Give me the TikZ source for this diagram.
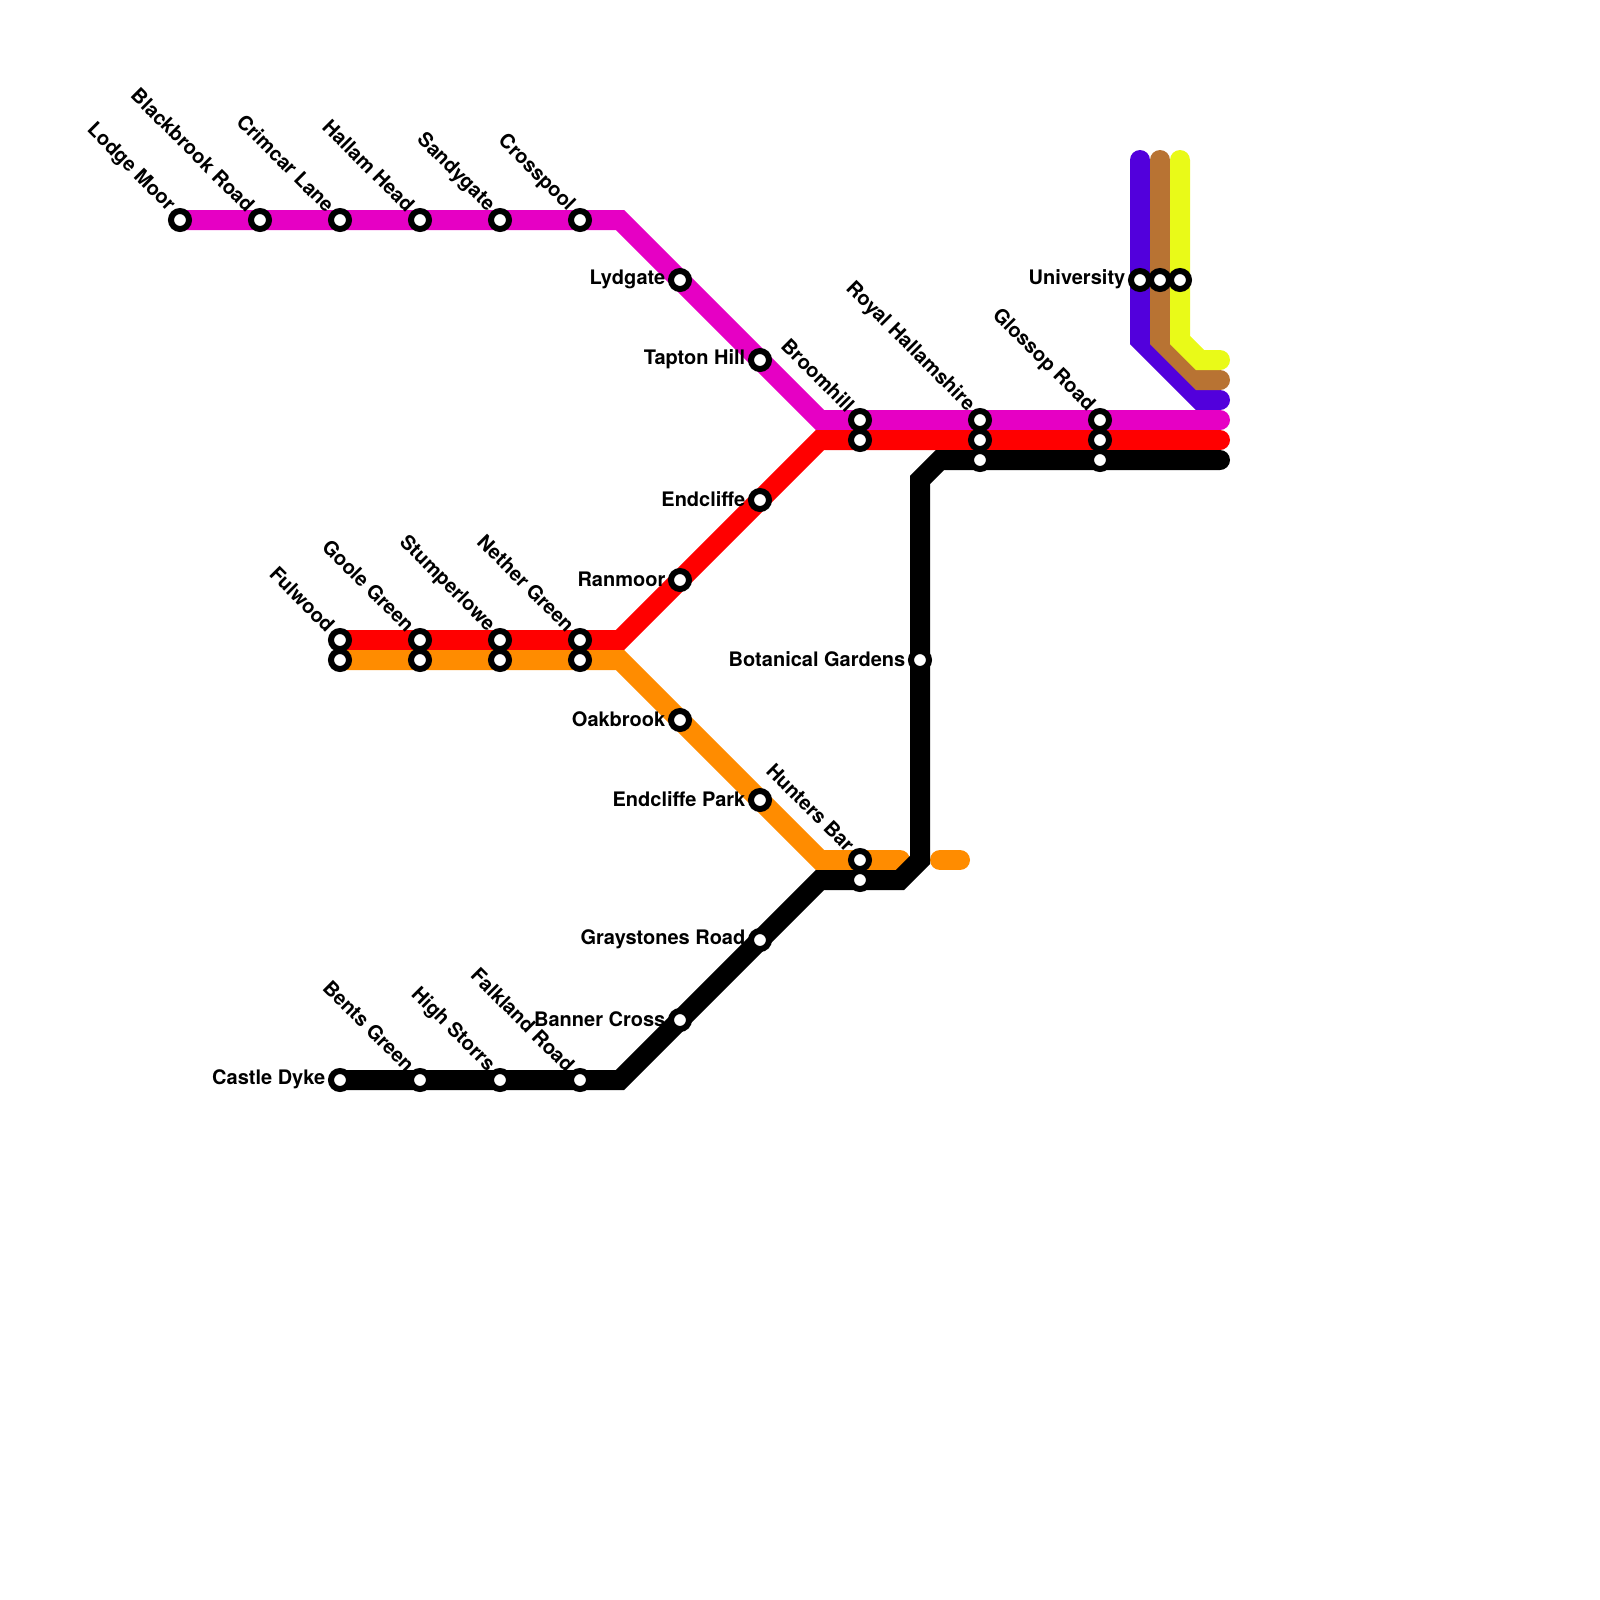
\documentclass[tikz,border=0pt]{standalone}
\usepackage{fontspec}
\setmainfont{TeX Gyre Heros}
\usetikzlibrary{backgrounds}
\definecolor{pinkline}{HTML}{E600C4}
\definecolor{orangeline}{HTML}{FF8C00}
\definecolor{violetline}{HTML}{5200DC}
\definecolor{brownline}{HTML}{B87333}
\definecolor{yellowline}{HTML}{E9FA18}
\tikzset{
  route/.style={line width=0.2cm,line cap=round,line join=miter},
  stop/.style={circle,draw=black,fill=white,line width=0.06cm,minimum size=0.18cm,inner sep=0pt},
  leftname/.style={anchor=east,xshift=-0.14cm,yshift=0.006cm,inner sep=0pt,font=\fontsize{5.69pt}{6.8pt}\selectfont\bfseries},
  tiltname/.style={rotate=-45,anchor=east,xshift=-0.14cm,yshift=0.02cm,inner sep=0pt,font=\fontsize{5.69pt}{6.8pt}\selectfont\bfseries}
}
\begin{document}
\begin{tikzpicture}[x=0.2cm,y=-0.2cm]
\useasboundingbox (0,0) rectangle (80,80);
% pink stops
\node[stop] (lodge) at (9,11) {};
\node[stop] (blackbrook) at (13,11) {};
\node[stop] (crimcar) at (17,11) {};
\node[stop] (hallam) at (21,11) {};
\node[stop] (sandygate) at (25,11) {};
\node[stop] (crosspool) at (29,11) {};
\node[stop] (lydgate) at (34,14) {};
\node[stop] (tapton) at (38,18) {};
\node[stop] (broomhillA) at (43,21) {};
\node[stop] (royalA) at (49,21) {};
\node[stop] (glossopA) at (55,21) {};
% red stops
\node[stop] (fulwoodA) at (17,32) {};
\node[stop] (gooleA) at (21,32) {};
\node[stop] (stumperloweA) at (25,32) {};
\node[stop] (netherA) at (29,32) {};
\node[stop] (ranmoor) at (34,29) {};
\node[stop] (endcliffe) at (38,25) {};
\node[stop] (broomhillB) at (43,22) {};
\node[stop] (royalB) at (49,22) {};
\node[stop] (glossopB) at (55,22) {};
% orange stops
\node[stop] (fulwoodB) at (17,33) {};
\node[stop] (gooleB) at (21,33) {};
\node[stop] (stumperloweB) at (25,33) {};
\node[stop] (netherB) at (29,33) {};
\node[stop] (oakbrook) at (34,36) {};
\node[stop] (endcliffepark) at (38,40) {};
\node[stop] (huntersA) at (43,43) {};
% black stops
\node[stop] (castle) at (17,54) {};
\node[stop] (bents) at (21,54) {};
\node[stop] (highstorrs) at (25,54) {};
\node[stop] (falkland) at (29,54) {};
\node[stop] (banner) at (34,51) {};
\node[stop] (graystones) at (38,47) {};
\node[stop] (huntersB) at (43,44) {};
\node[stop] (botanical) at (46,33) {};
\node[stop] (royalC) at (49,23) {};
\node[stop] (glossopC) at (55,23) {};
% university
\node[stop] (uniA) at (57,14) {};
\node[stop] (uniB) at (58,14) {};
\node[stop] (uniC) at (59,14) {};
% bends and free ends
\coordinate (pinkA) at (31,11);
\coordinate (pinkB) at (41,21);
\coordinate (pinkend) at (61,21);
\coordinate (redA) at (31,32);
\coordinate (redB) at (41,22);
\coordinate (redend) at (61,22);
\coordinate (orangeA) at (31,33);
\coordinate (orangeB) at (41,43);
\coordinate (orangeend) at (45,43);
\coordinate (stubA) at (47,43);
\coordinate (stubB) at (48,43);
\coordinate (blackA) at (31,54);
\coordinate (blackB) at (41,44);
\coordinate (blackC) at (45,44);
\coordinate (blackD) at (46,43);
\coordinate (blackE) at (46,24);
\coordinate (blackF) at (47,23);
\coordinate (blackend) at (61,23);
\coordinate (violettop) at (57,8);
\coordinate (violetA) at (57,17);
\coordinate (violetB) at (60,20);
\coordinate (violetend) at (61,20);
\coordinate (browntop) at (58,8);
\coordinate (brownA) at (58,17);
\coordinate (brownB) at (60,19);
\coordinate (brownend) at (61,19);
\coordinate (yellowtop) at (59,8);
\coordinate (yellowA) at (59,17);
\coordinate (yellowB) at (60,18);
\coordinate (yellowend) at (61,18);
% routes go under the stops
\begin{scope}[on background layer]
\draw[route,violetline] (violettop) -- (violetA) -- (violetB) -- (violetend);
\draw[route,brownline] (browntop) -- (brownA) -- (brownB) -- (brownend);
\draw[route,yellowline] (yellowtop) -- (yellowA) -- (yellowB) -- (yellowend);
\draw[route,pinkline] (lodge.center) -- (pinkA) -- (pinkB) -- (pinkend);
\draw[route,red] (fulwoodA.center) -- (redA) -- (redB) -- (redend);
\draw[route,orangeline] (fulwoodB.center) -- (orangeA) -- (orangeB) -- (orangeend);
\draw[route,orangeline] (stubA) -- (stubB);
\draw[route,black] (castle.center) -- (blackA) -- (blackB) -- (blackC) -- (blackD) -- (blackE) -- (blackF) -- (blackend);
\end{scope}
% names
\node[tiltname] (lodgename) at (lodge) {Lodge Moor};
\node[tiltname] (blackbrookname) at (blackbrook) {Blackbrook Road};
\node[tiltname] (crimcarname) at (crimcar) {Crimcar Lane};
\node[tiltname] (hallamname) at (hallam) {Hallam Head};
\node[tiltname] (sandygatename) at (sandygate) {Sandygate};
\node[tiltname] (crosspoolname) at (crosspool) {Crosspool};
\node[leftname] (lydgatename) at (lydgate) {Lydgate};
\node[leftname] (taptonname) at (tapton) {Tapton Hill};
\node[tiltname] (broomhillname) at (broomhillA) {Broomhill};
\node[tiltname] (royalname) at (royalA) {Royal Hallamshire};
\node[tiltname] (glossopname) at (glossopA) {Glossop Road};
\node[leftname] (uniname) at (uniA) {University};
\node[tiltname] (fulwoodname) at (fulwoodA) {Fulwood};
\node[tiltname] (goolename) at (gooleA) {Goole Green};
\node[tiltname] (stumperlowename) at (stumperloweA) {Stumperlowe};
\node[tiltname] (nethername) at (netherA) {Nether Green};
\node[leftname] (ranmoorname) at (ranmoor) {Ranmoor};
\node[leftname] (endcliffename) at (endcliffe) {Endcliffe};
\node[leftname] (botanicalname) at (botanical) {Botanical Gardens};
\node[leftname] (oakbrookname) at (oakbrook) {Oakbrook};
\node[leftname] (endcliffeparkname) at (endcliffepark) {Endcliffe Park};
\node[tiltname] (huntersname) at (huntersA) {Hunters Bar};
\node[leftname] (graystonesname) at (graystones) {Graystones Road};
\node[leftname] (bannername) at (banner) {Banner Cross};
\node[leftname] (castlename) at (castle) {Castle Dyke};
\node[tiltname] (bentsname) at (bents) {Bents Green};
\node[tiltname] (highstorrsname) at (highstorrs) {High Storrs};
\node[tiltname] (falklandname) at (falkland) {Falkland Road};
\end{tikzpicture}
\end{document}
